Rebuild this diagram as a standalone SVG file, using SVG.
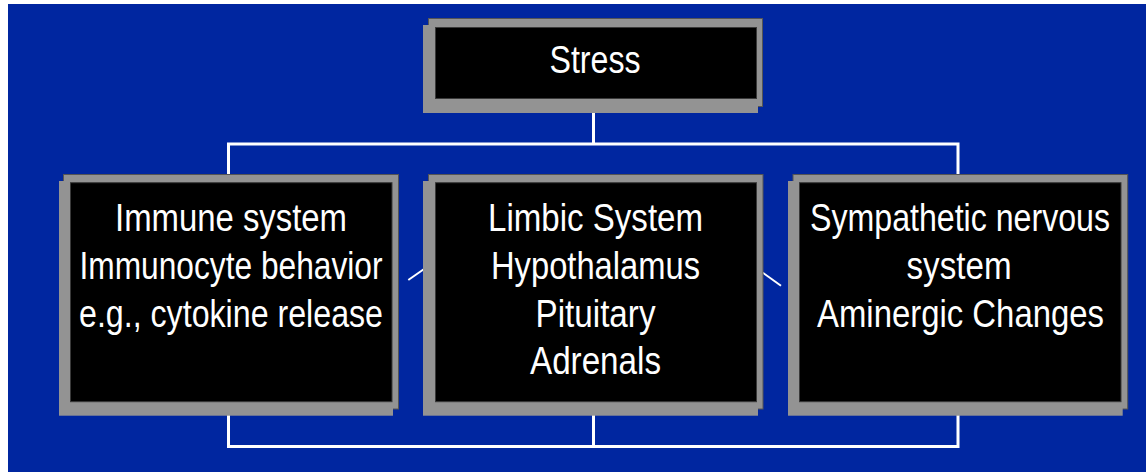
<svg xmlns="http://www.w3.org/2000/svg" width="1146" height="474" viewBox="0 0 1146 474">
<style>
.bg{fill:#0026a0}
.main{fill:#939393;stroke:#555;stroke-width:1}
.shadow{fill:#939393}
.inner{fill:#000;stroke:#3a3a3a;stroke-width:1}
.conn{fill:none;stroke:#fff;stroke-width:3}
.diag{fill:none;stroke:#fff;stroke-width:2}
text{font-family:"Liberation Sans",Arial,sans-serif;font-size:32px;fill:#fff;text-anchor:middle}
</style>
<rect x="0" y="0" width="1146" height="474" fill="#fff"/>
<rect class="bg" x="8" y="4" width="1138" height="468"/>
<g id="connectors">
<path class="conn" d="M593.5,113V144M228.5,175V144H958V175"/>
<path class="conn" d="M593.5,415V446.5M228.5,415V446.5H958V415"/>
<path class="diag" d="M408.3,280L432,263.5"/>
<path class="diag" d="M752,265L781,285.7"/>
</g>
<g id="stress">
<rect class="main" x="428.5" y="18.5" width="334" height="88"/>
<rect class="shadow" x="423" y="25" width="335" height="88"/>
<rect class="inner" x="435.5" y="27.5" width="321" height="71"/>
<text transform="translate(595,72.5) scale(1,1.1875)" textLength="91" lengthAdjust="spacingAndGlyphs">Stress</text>
</g>
<g id="immune">
<rect class="main" x="63.5" y="174.5" width="335" height="234.5"/>
<rect class="shadow" x="59" y="181" width="334" height="234.7"/>
<rect class="inner" x="70.5" y="182.7" width="321.5" height="219"/>
<text transform="translate(231,231) scale(1,1.1875)" textLength="232" lengthAdjust="spacingAndGlyphs">Immune system</text>
<text transform="translate(231,278.5) scale(1,1.1875)" textLength="303" lengthAdjust="spacingAndGlyphs">Immunocyte behavior</text>
<text transform="translate(231,326.5) scale(1,1.1875)" textLength="304" lengthAdjust="spacingAndGlyphs">e.g., cytokine release</text>
</g>
<g id="limbic">
<rect class="main" x="428.5" y="174.5" width="334.5" height="234.5"/>
<rect class="shadow" x="423" y="181" width="335" height="234.7"/>
<rect class="inner" x="435.5" y="182.7" width="321" height="219"/>
<text transform="translate(595.5,231) scale(1,1.1875)" textLength="215" lengthAdjust="spacingAndGlyphs">Limbic System</text>
<text transform="translate(595.5,278.5) scale(1,1.1875)" textLength="209" lengthAdjust="spacingAndGlyphs">Hypothalamus</text>
<text transform="translate(595.5,326.5) scale(1,1.1875)" textLength="120" lengthAdjust="spacingAndGlyphs">Pituitary</text>
<text transform="translate(595.5,374) scale(1,1.1875)" textLength="131" lengthAdjust="spacingAndGlyphs">Adrenals</text>
</g>
<g id="sympathetic">
<rect class="main" x="793" y="174.5" width="334.7" height="234.5"/>
<rect class="shadow" x="788" y="181" width="334.7" height="234.7"/>
<rect class="inner" x="799.5" y="182.7" width="321.5" height="219"/>
<text transform="translate(960,230.5) scale(1,1.1875)" textLength="300" lengthAdjust="spacingAndGlyphs">Sympathetic nervous</text>
<text transform="translate(959,278.5) scale(1,1.1875)" textLength="105" lengthAdjust="spacingAndGlyphs">system</text>
<text transform="translate(960.5,326.5) scale(1,1.1875)" textLength="287" lengthAdjust="spacingAndGlyphs">Aminergic Changes</text>
</g>
</svg>
